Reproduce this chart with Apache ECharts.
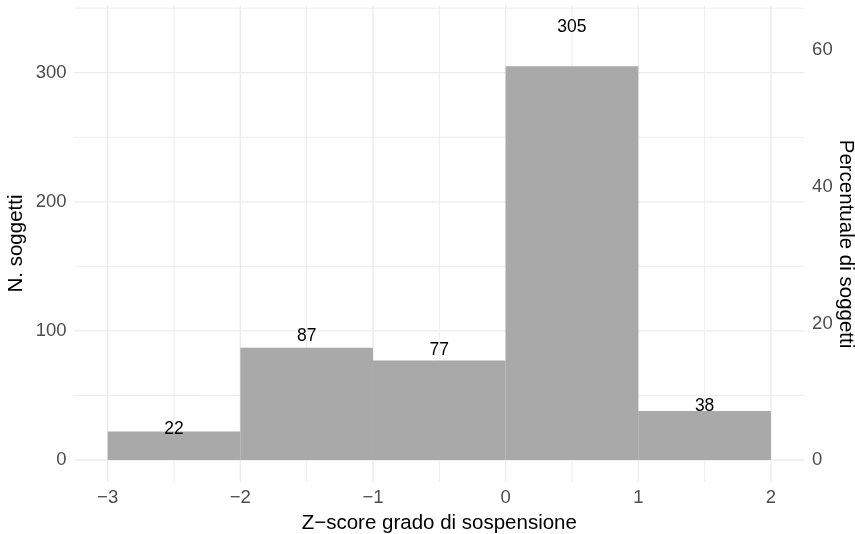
<!DOCTYPE html>
<html><head><meta charset="utf-8">
<script src="https://cdn.jsdelivr.net/npm/echarts@6/dist/echarts.min.js"></script>
<style>html,body{margin:0;padding:0;background:#fff}#c{width:855px;height:534px}</style>
</head><body><div id="c"></div>
<script>
// Data
const binStart = [-3, -2, -1, 0, 1];
const binEnd   = [-2, -1, 0, 1, 2];
const counts   = [22, 87, 77, 305, 38];
const xTicks   = [-3, -2, -1, 0, 1, 2];
const xMinor   = [-2.5, -1.5, -0.5, 0.5, 1.5];
const yTicks   = [0, 100, 200, 300];
const yMinor   = [50, 150, 250, 350];
const pctTicks = [0, 20, 40, 60];

const FONT = 'Liberation Sans, Arial, Helvetica, sans-serif';
const total = counts.reduce((a, b) => a + b, 0);
const yMin = -16.8, yMax = 352.3;
const xMin = -3.25, xMax = 2.25;
const fmt = v => (v < 0 ? '\u2212' + Math.abs(v) : String(v));

const bars = binStart.map((s, i) => [s, binEnd[i], counts[i]]);

// grid lines: [orientation (0 = vertical, 1 = horizontal), value, width]
const gridLines = [];
xTicks.forEach(v => gridLines.push([0, v, 1.3]));
xMinor.forEach(v => gridLines.push([0, v, 0.9]));
yTicks.forEach(v => gridLines.push([1, v, 1.3]));
yMinor.forEach(v => gridLines.push([1, v, 0.9]));

const chart = echarts.init(document.getElementById('c'), null, { renderer: 'canvas' });
chart.setOption({
  animation: false,
  backgroundColor: '#ffffff',
  textStyle: { fontFamily: FONT },
  grid: { left: 74.5, right: 50.9, top: 5.2, bottom: 52.3, containLabel: false, outerBoundsMode: 'none' },
  graphic: [{
    type: 'text', x: 16.5, y: 243.5, rotation: Math.PI / 2, silent: true,
    style: { text: 'N. soggetti', fill: '#000', font: '20.5px ' + FONT, textAlign: 'center', textVerticalAlign: 'middle' }
  }, {
    type: 'text', x: 846, y: 244, rotation: -Math.PI / 2, silent: true,
    style: { text: 'Percentuale di soggetti', fill: '#000', font: '20.5px ' + FONT, textAlign: 'center', textVerticalAlign: 'middle' }
  }],
  xAxis: {
    type: 'value', min: xMin, max: xMax,
    axisLine: { show: false }, axisTick: { show: false }, splitLine: { show: false },
    axisLabel: { customValues: xTicks, formatter: fmt, color: '#4D4D4D', fontSize: 18.5, margin: 7, fontFamily: FONT },
    name: 'Z\u2212score grado di sospensione', nameLocation: 'middle', nameGap: 27.5,
    nameTextStyle: { color: '#000', fontSize: 20.5, fontFamily: FONT }
  },
  yAxis: [{
    type: 'value', min: yMin, max: yMax, position: 'left',
    axisLine: { show: false }, axisTick: { show: false }, splitLine: { show: false },
    axisLabel: { customValues: yTicks, color: '#4D4D4D', fontSize: 18.5, margin: 8, fontFamily: FONT }
  }, {
    type: 'value', min: yMin * 100 / total, max: yMax * 100 / total, position: 'right',
    axisLine: { show: false }, axisTick: { show: false }, splitLine: { show: false },
    axisLabel: { customValues: pctTicks, color: '#4D4D4D', fontSize: 18.5, margin: 8, fontFamily: FONT }
  }],
  series: [{
    type: 'custom', z: 1, data: gridLines, silent: true,
    renderItem: function (params, api) {
      const o = api.value(0), v = api.value(1), w = api.value(2);
      const a = o === 0 ? api.coord([v, yMin]) : api.coord([xMin, v]);
      const b = o === 0 ? api.coord([v, yMax]) : api.coord([xMax, v]);
      return { type: 'line', shape: { x1: a[0], y1: a[1], x2: b[0], y2: b[1] },
        style: { stroke: '#EBEBEB', lineWidth: w } };
    }
  }, {
    type: 'custom', z: 2, data: bars, silent: true,
    renderItem: function (params, api) {
      const p0 = api.coord([api.value(0), api.value(2)]);
      const p1 = api.coord([api.value(1), 0]);
      return { type: 'rect', shape: { x: p0[0], y: p0[1], width: p1[0] - p0[0], height: p1[1] - p0[1] },
        style: { fill: '#A9A9A9' } };
    }
  }, {
    type: 'custom', z: 3, data: bars, silent: true,
    renderItem: function (params, api) {
      const v = api.value(2);
      const p = api.coord([(api.value(0) + api.value(1)) / 2, v * 1.1]);
      return { type: 'text', x: p[0], y: p[1],
        style: { text: String(v), fill: '#000', font: '17.5px ' + FONT, textAlign: 'center', textVerticalAlign: 'middle' } };
    }
  }]
});
</script>
</body></html>
